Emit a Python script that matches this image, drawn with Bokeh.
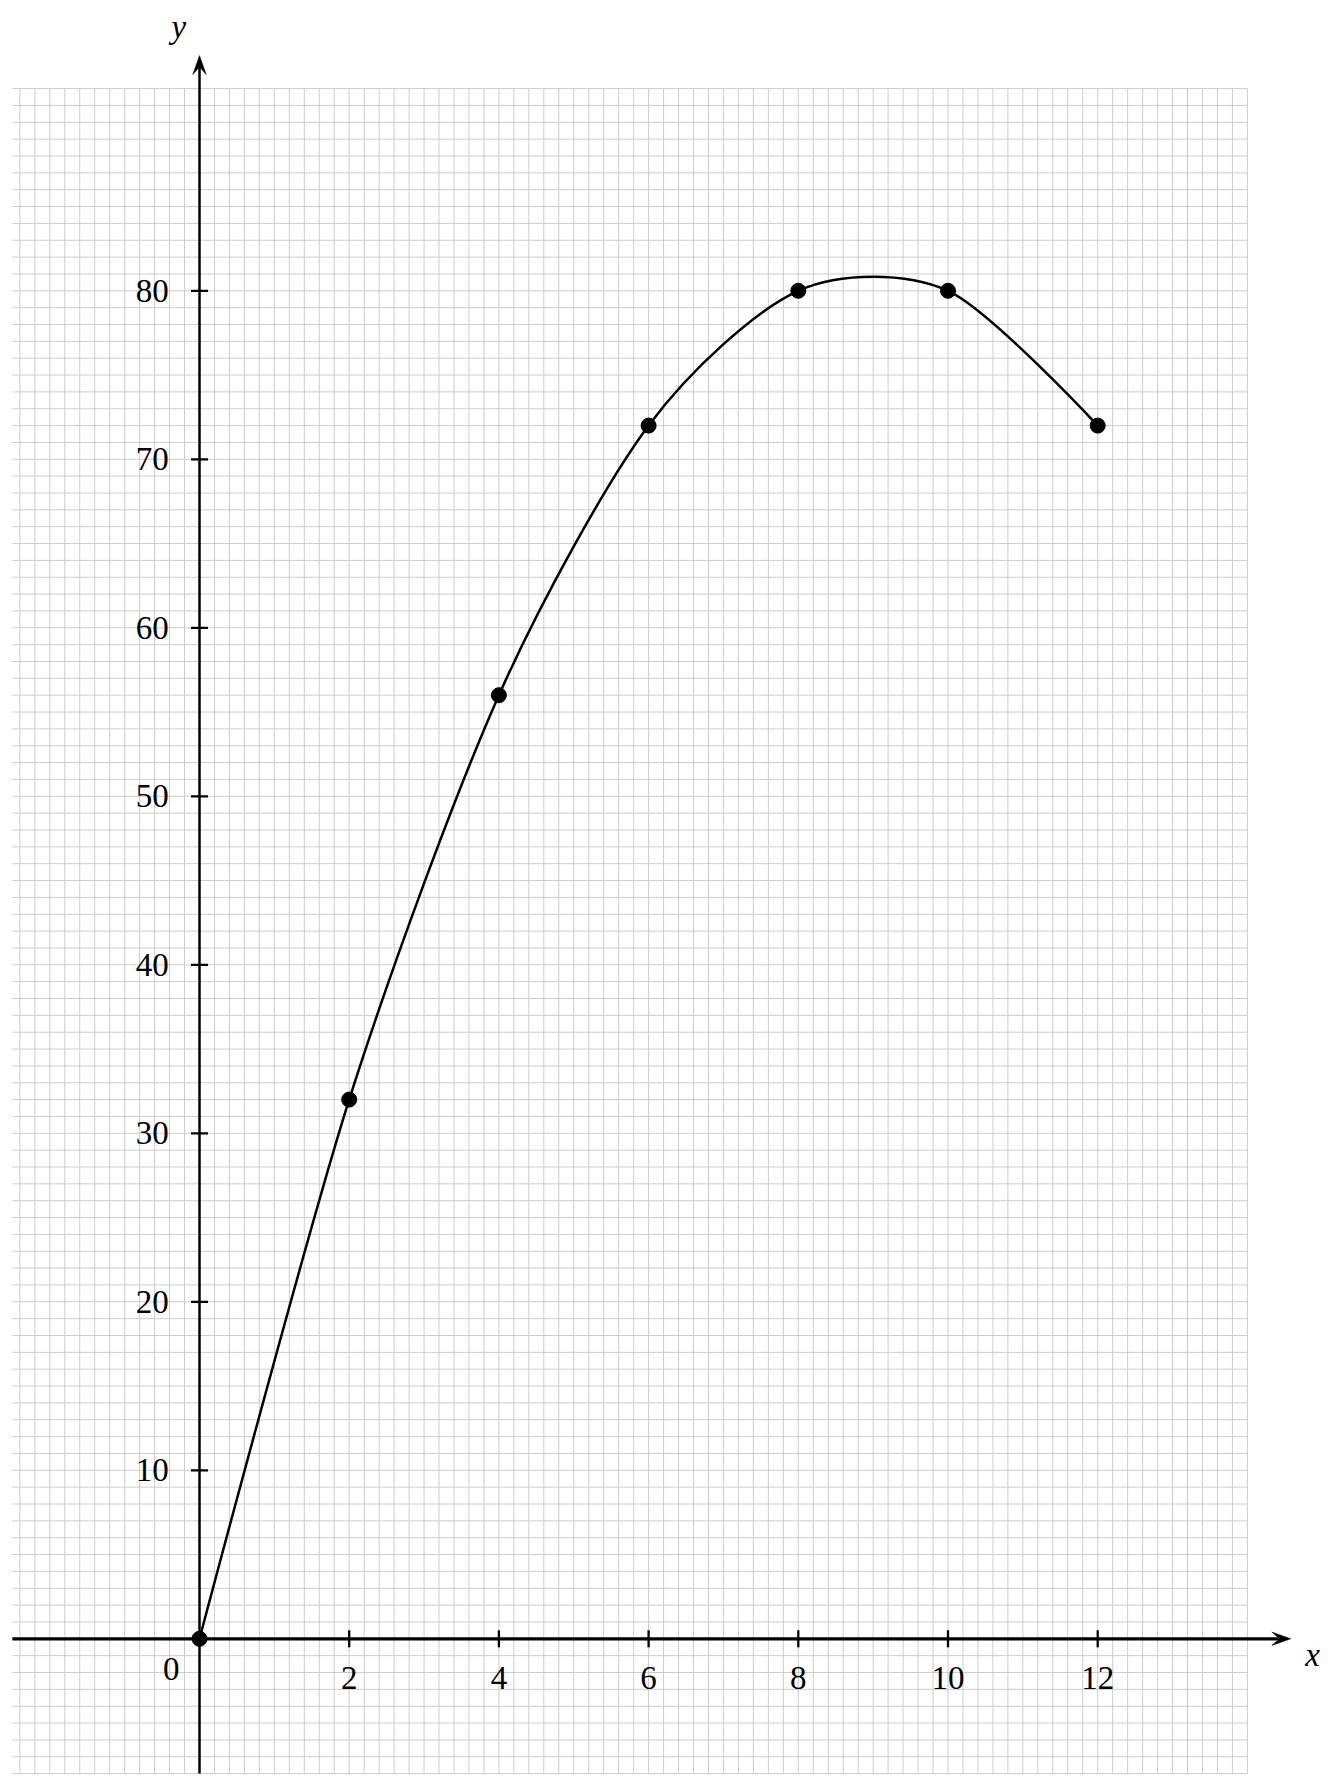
import numpy as np
from bokeh.plotting import figure
from bokeh.models import Range1d
from bokeh.embed import file_html
from bokeh.resources import INLINE
from bokeh.core.properties import value

# ---- data ----
x_vals = [0, 2, 4, 6, 8, 10, 12]
y_vals = [0, 32, 56, 72, 80, 80, 72]
x_ticks = [2, 4, 6, 8, 10, 12]
x_tick_labels = ["2", "4", "6", "8", "10", "12"]
y_ticks = [10, 20, 30, 40, 50, 60, 70, 80]
y_tick_labels = ["10", "20", "30", "40", "50", "60", "70", "80"]

# ---- layout calibration ----
W, H = 1328, 1778
OX, OY = 199.0, 1638.3      # origin in frame pixels
SX, SY = 74.85, 16.85       # pixels per unit
FONT = value("Liberation Serif")
FS = "33px"

p = figure(width=W, height=H, output_backend="svg", toolbar_location=None,
           x_axis_type=None, y_axis_type=None, min_border=0,
           x_range=Range1d(-OX / SX, (W - OX) / SX),
           y_range=Range1d((OY - H) / SY, OY / SY))
p.outline_line_color = None
p.background_fill_color = "white"
p.border_fill_color = "white"
p.xgrid.visible = False
p.ygrid.visible = False

# ---- millimetre grid ----
gx = np.round(np.arange(-2.4, 14.0001, 0.2), 6)
gy = np.arange(-8, 93, 1)
p.segment(x0=gx, y0=-8, x1=gx, y1=92, line_color="#cccccc", line_width=1)
p.segment(x0=-2.5, y0=gy, x1=14.0, y1=gy, line_color="#cccccc", line_width=1)

# ---- axes ----
x_tip, y_tip = 14.58, 93.96
p.segment(x0=[-2.5], y0=[0], x1=[x_tip - 0.1], y1=[0], line_color="black", line_width=3.2)
p.segment(x0=[0], y0=[-8], x1=[0], y1=[y_tip - 0.5], line_color="black", line_width=2.5)
L, hw = 19.0, 6.7
p.patch(x=[x_tip, x_tip - L / SX, x_tip - 0.6 * L / SX, x_tip - L / SX],
        y=[0, hw / SY, 0, -hw / SY], color="black", line_width=0.5)
p.patch(x=[0, hw / SX, 0, -hw / SX],
        y=[y_tip, y_tip - L / SY, y_tip - 0.6 * L / SY, y_tip - L / SY],
        color="black", line_width=0.5)

# ticks
tl = 8.5
p.segment(x0=x_ticks, y0=-tl / SY, x1=x_ticks, y1=tl / SY, line_color="black", line_width=2.3)
p.segment(x0=-tl / SX, y0=y_ticks, x1=tl / SX, y1=y_ticks, line_color="black", line_width=2.3)

# tick labels
p.text(x=x_ticks, y=[-2.31] * len(x_ticks), text=x_tick_labels, text_font=FONT,
       text_font_size=FS, text_align="center", text_baseline="middle", text_color="black")
p.text(x=[-0.41] * len(y_ticks), y=y_ticks, text=y_tick_labels, text_font=FONT,
       text_font_size=FS, text_align="right", text_baseline="middle", text_color="black")
p.text(x=[-0.378], y=[-1.78], text=["0"], text_font=FONT, text_font_size=FS,
       text_align="center", text_baseline="middle", text_color="black")
p.text(x=[14.87], y=[-0.95], text=["x"], text_font=FONT, text_font_size=FS,
       text_font_style="italic", text_align="center", text_baseline="middle", text_color="black")
p.text(x=[-0.277], y=[95.68], text=["y"], text_font=FONT, text_font_size=FS,
       text_font_style="italic", text_align="center", text_baseline="middle", text_color="black")

# ---- smooth curve through the data points (TikZ-like smooth) ----
P = np.column_stack([x_vals, y_vals]).astype(float)
D = np.zeros_like(P)
D[1:-1] = P[2:] - P[:-2]
k = 0.1387
c0 = P[:-1] + k * D[:-1]
c1 = P[1:] - k * D[1:]
p.bezier(x0=P[:-1, 0], y0=P[:-1, 1], x1=P[1:, 0], y1=P[1:, 1],
         cx0=c0[:, 0], cy0=c0[:, 1], cx1=c1[:, 0], cy1=c1[:, 1],
         line_color="black", line_width=2.5)

p.scatter(x=x_vals, y=y_vals, size=15, color="black")

open("out.html", "w").write(file_html(p, INLINE))
